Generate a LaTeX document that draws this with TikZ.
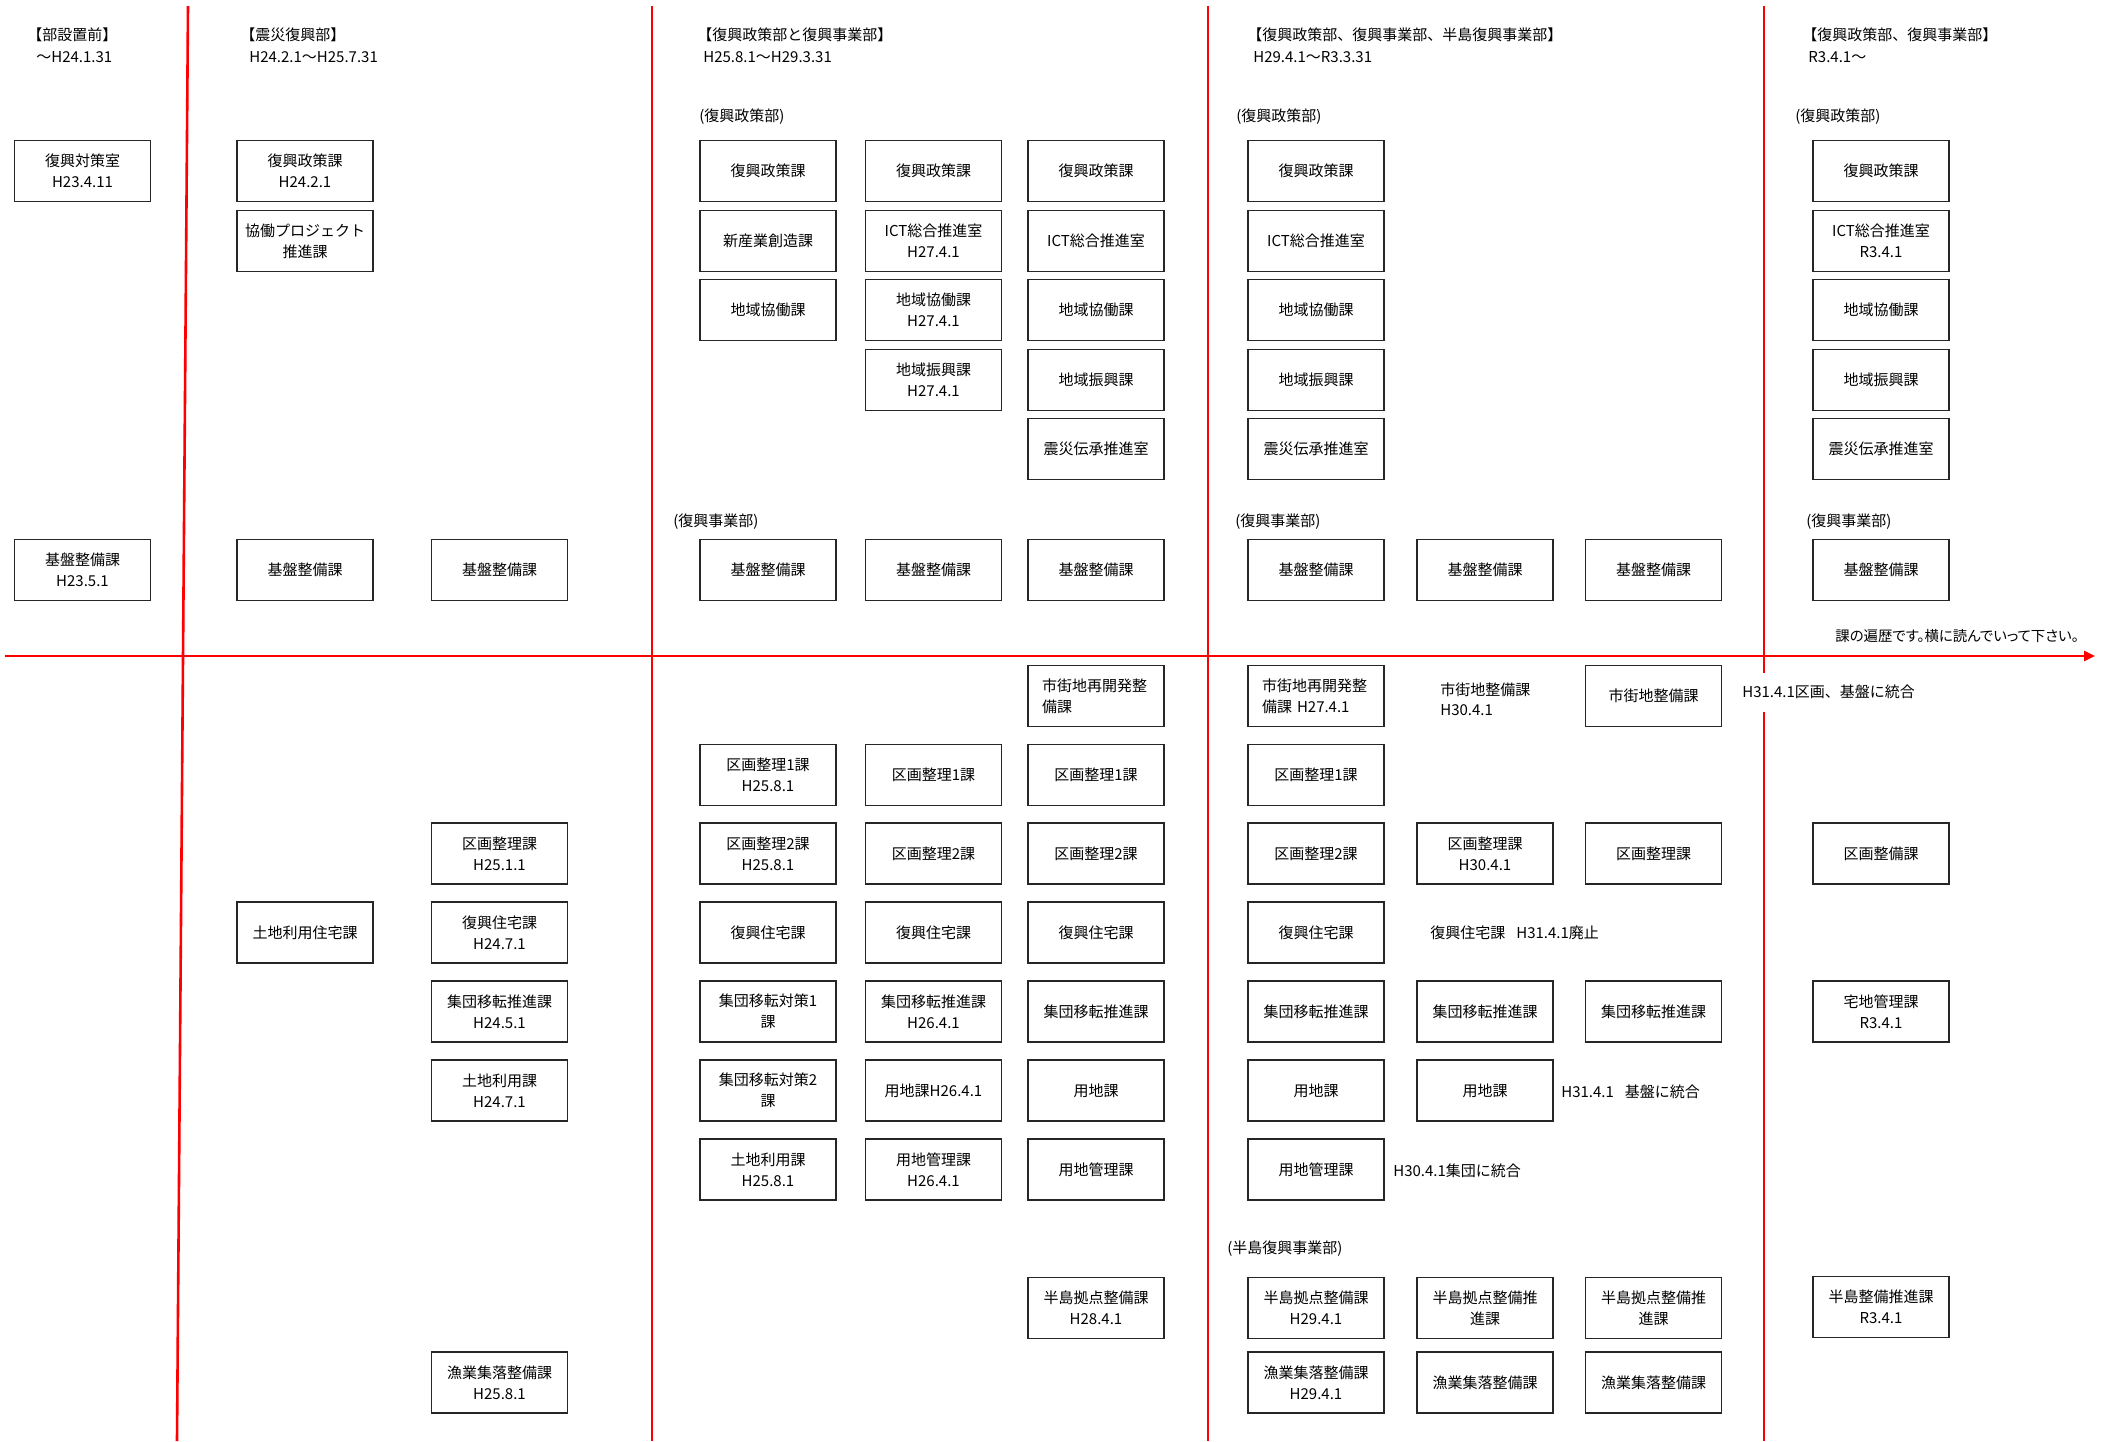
\documentclass[tikz,border=0pt]{standalone}
\usepackage{fontspec}
\setmainfont{Noto Sans CJK JP}
\newfontfamily\jpprop[RawFeature=+palt]{Noto Sans CJK JP}
\usetikzlibrary{arrows.meta}
\begin{document}
\begin{tikzpicture}[x=0.5pt,y=-0.5pt,
  every node/.style={font=\fontsize{7.5}{10.3}\selectfont, text=black},
  box/.style={draw=black!85, line width=0.7pt, minimum width=68pt, minimum height=30.5pt,
              inner sep=1pt, align=center},
  lbox/.style={box, align=left, text width=54pt, inner xsep=7pt},
  note/.style={anchor=west, inner sep=0pt},
  axis/.style={draw=red, line width=1.3pt}]
\useasboundingbox (0,0) rectangle (2105,1441);

% ---- period dividers and time axis ----
\coordinate (v1t) at (188,6);    \coordinate (v1b) at (177,1441);
\coordinate (v2t) at (652,6);    \coordinate (v2b) at (652,1441);
\coordinate (v3t) at (1208,6);   \coordinate (v3b) at (1208,1441);
\coordinate (v4t) at (1764,6);   \coordinate (v4m) at (1764,673);
\coordinate (v4n) at (1764,712); \coordinate (v4b) at (1764,1441);
\coordinate (hl) at (5,656);     \coordinate (hr) at (2095,656);
\draw[axis] (v1t) -- (v1b);
\draw[axis] (v2t) -- (v2b);
\draw[axis] (v3t) -- (v3b);
\draw[axis] (v4t) -- (v4m);
\draw[axis] (v4n) -- (v4b);
\draw[axis, -{Triangle[length=5.5pt,width=5pt]}] (hl) -- (hr);

% ---- period headings ----
\node[note] (h1a) at (27,35)   {【部設置前】};
\node[note] (h1b) at (36,57)   {～H24.1.31};
\node[note] (h2a) at (240,35)  {【震災復興部】};
\node[note] (h2b) at (249,57)  {H24.2.1～H25.7.31};
\node[note] (h3a) at (697,35)  {【復興政策部と復興事業部】};
\node[note] (h3b) at (703,57)  {H25.8.1～H29.3.31};
\node[note] (h4a) at (1247,35) {【復興政策部、復興事業部、半島復興事業部】};
\node[note] (h4b) at (1253,57) {H29.4.1～R3.3.31};
\node[note] (h5a) at (1802,35) {【復興政策部、復興事業部】};
\node[note] (h5b) at (1808,57) {R3.4.1～};

% ---- department labels ----
\node[note] (lp3) at (699,117)   {(復興政策部)};
\node[note] (lp4) at (1236,117)  {(復興政策部)};
\node[note] (lp5) at (1795,117)  {(復興政策部)};
\node[note] (lj3) at (673,522)   {(復興事業部)};
\node[note] (lj4) at (1235,522)  {(復興事業部)};
\node[note] (lj5) at (1806,522)  {(復興事業部)};
\node[note] (lh4) at (1227,1249) {(半島復興事業部)};

% ---- before the department ----
\node[box] (s1u1) at (82.5,171) {復興対策室\\H23.4.11};
\node[box] (s1k)  at (82.5,570) {基盤整備課\\H23.5.1};

% ---- 震災復興部 ----
\node[box] (s2au1) at (305,171)    {復興政策課\\H24.2.1};
\node[box] (s2au2) at (305,241)    {協働プロジェクト\\推進課};
\node[box] (s2ak)  at (305,570)    {基盤整備課};
\node[box] (s2bk)  at (499.5,570)  {基盤整備課};
\node[box] (s2al3) at (305,932.5)  {土地利用住宅課};
\node[box] (s2bl2) at (499.5,853.5)  {区画整理課\\H25.1.1};
\node[box] (s2bl3) at (499.5,932.5)  {復興住宅課\\H24.7.1};
\node[box] (s2bl4) at (499.5,1011.5) {集団移転推進課\\H24.5.1};
\node[box] (s2bl5) at (499.5,1090.5) {土地利用課\\H24.7.1};
\node[box] (s2bh2) at (499.5,1382.5) {漁業集落整備課\\H25.8.1};

% ---- 復興政策部と復興事業部 ----
\node[box] (s3au1) at (768,171)    {復興政策課};
\node[box] (s3bu1) at (933.5,171)  {復興政策課};
\node[box] (s3cu1) at (1096,171)   {復興政策課};
\node[box] (s3au2) at (768,241)    {新産業創造課};
\node[box] (s3bu2) at (933.5,241)  {ICT総合推進室\\H27.4.1};
\node[box] (s3cu2) at (1096,241)   {ICT総合推進室};
\node[box] (s3au3) at (768,310)    {地域協働課};
\node[box] (s3bu3) at (933.5,310)  {地域協働課\\H27.4.1};
\node[box] (s3cu3) at (1096,310)   {地域協働課};
\node[box] (s3bu4) at (933.5,380)  {地域振興課\\H27.4.1};
\node[box] (s3cu4) at (1096,380)   {地域振興課};
\node[box] (s3cu5) at (1096,449)   {震災伝承推進室};
\node[box] (s3ak)  at (768,570)    {基盤整備課};
\node[box] (s3bk)  at (933.5,570)  {基盤整備課};
\node[box] (s3ck)  at (1096,570)   {基盤整備課};
\node[lbox] (s3cl0) at (1096,696)  {市街地再開発整\\備課};
\node[box] (s3al1) at (768,775)    {区画整理1課\\H25.8.1};
\node[box] (s3bl1) at (933.5,775)  {区画整理1課};
\node[box] (s3cl1) at (1096,775)   {区画整理1課};
\node[box] (s3al2) at (768,853.5)  {区画整理2課\\H25.8.1};
\node[box] (s3bl2) at (933.5,853.5) {区画整理2課};
\node[box] (s3cl2) at (1096,853.5) {区画整理2課};
\node[box] (s3al3) at (768,932.5)  {復興住宅課};
\node[box] (s3bl3) at (933.5,932.5) {復興住宅課};
\node[box] (s3cl3) at (1096,932.5) {復興住宅課};
\node[box] (s3al4) at (768,1011.5) {集団移転対策1\\課};
\node[box] (s3bl4) at (933.5,1011.5) {集団移転推進課\\H26.4.1};
\node[box] (s3cl4) at (1096,1011.5) {集団移転推進課};
\node[box] (s3al5) at (768,1090.5) {集団移転対策2\\課};
\node[box] (s3bl5) at (933.5,1090.5) {用地課H26.4.1};
\node[box] (s3cl5) at (1096,1090.5) {用地課};
\node[box] (s3al6) at (768,1169.5) {土地利用課\\H25.8.1};
\node[box] (s3bl6) at (933.5,1169.5) {用地管理課\\H26.4.1};
\node[box] (s3cl6) at (1096,1169.5) {用地管理課};
\node[box] (s3ch1) at (1096,1308)  {半島拠点整備課\\H28.4.1};

% ---- 復興政策部、復興事業部、半島復興事業部 ----
\node[box] (s4au1) at (1316,171)   {復興政策課};
\node[box] (s4au2) at (1316,241)   {ICT総合推進室};
\node[box] (s4au3) at (1316,310)   {地域協働課};
\node[box] (s4au4) at (1316,380)   {地域振興課};
\node[box] (s4au5) at (1316,449)   {震災伝承推進室};
\node[box] (s4ak)  at (1316,570)   {基盤整備課};
\node[box] (s4bk)  at (1485,570)   {基盤整備課};
\node[box] (s4ck)  at (1653.5,570) {基盤整備課};
\node[lbox] (s4al0) at (1316,696)  {市街地再開発整\\備課\ H27.4.1};
\node[note] (n3a) at (1440,690)    {市街地整備課};
\node[note] (n3b) at (1440,710)    {H30.4.1};
\node[box] (s4cl0) at (1653.5,696) {市街地整備課};
\node[box] (s4al1) at (1316,775)   {区画整理1課};
\node[box] (s4al2) at (1316,853.5) {区画整理2課};
\node[box] (s4bl2) at (1485,853.5) {区画整理課\\H30.4.1};
\node[box] (s4cl2) at (1653.5,853.5) {区画整理課};
\node[box] (s4al3) at (1316,932.5) {復興住宅課};
\node[note] (n4) at (1430,933)     {復興住宅課\hspace{5.5pt}H31.4.1廃止};
\node[box] (s4al4) at (1316,1011.5) {集団移転推進課};
\node[box] (s4bl4) at (1485,1011.5) {集団移転推進課};
\node[box] (s4cl4) at (1653.5,1011.5) {集団移転推進課};
\node[box] (s4al5) at (1316,1090.5) {用地課};
\node[box] (s4bl5) at (1485,1090.5) {用地課};
\node[note] (n5) at (1561,1092)    {H31.4.1\hspace{5.5pt}基盤に統合};
\node[box] (s4al6) at (1316,1169.5) {用地管理課};
\node[note] (n6) at (1393,1171)    {H30.4.1集団に統合};
\node[box] (s4ah1) at (1316,1308)  {半島拠点整備課\\H29.4.1};
\node[box] (s4bh1) at (1485,1308)  {半島拠点整備推\\進課};
\node[box] (s4ch1) at (1653.5,1308) {半島拠点整備推\\進課};
\node[box] (s4ah2) at (1316,1382.5) {漁業集落整備課\\H29.4.1};
\node[box] (s4bh2) at (1485,1382.5) {漁業集落整備課};
\node[box] (s4ch2) at (1653.5,1382.5) {漁業集落整備課};

% ---- 復興政策部、復興事業部 (R3.4.1～) ----
\node[box] (s5u1) at (1881,171)    {復興政策課};
\node[box] (s5u2) at (1881,241)    {ICT総合推進室\\R3.4.1};
\node[box] (s5u3) at (1881,310)    {地域協働課};
\node[box] (s5u4) at (1881,380)    {地域振興課};
\node[box] (s5u5) at (1881,449)    {震災伝承推進室};
\node[box] (s5k)  at (1881,570)    {基盤整備課};
\node[box] (s5l2) at (1881,853.5)  {区画整備課};
\node[box] (s5l4) at (1881,1011.5) {宅地管理課\\R3.4.1};
\node[box] (s5h1) at (1881,1307)   {半島整備推進課\\R3.4.1};

% ---- notes on the axis ----
\node[note, font=\jpprop\fontsize{7.2}{10}\selectfont] (n1) at (1835,636)
  {課の遍歴です。横に読んでいって下さい。};
\node[note] (n2) at (1742,692) {H31.4.1区画、基盤に統合};
\end{tikzpicture}
\end{document}
